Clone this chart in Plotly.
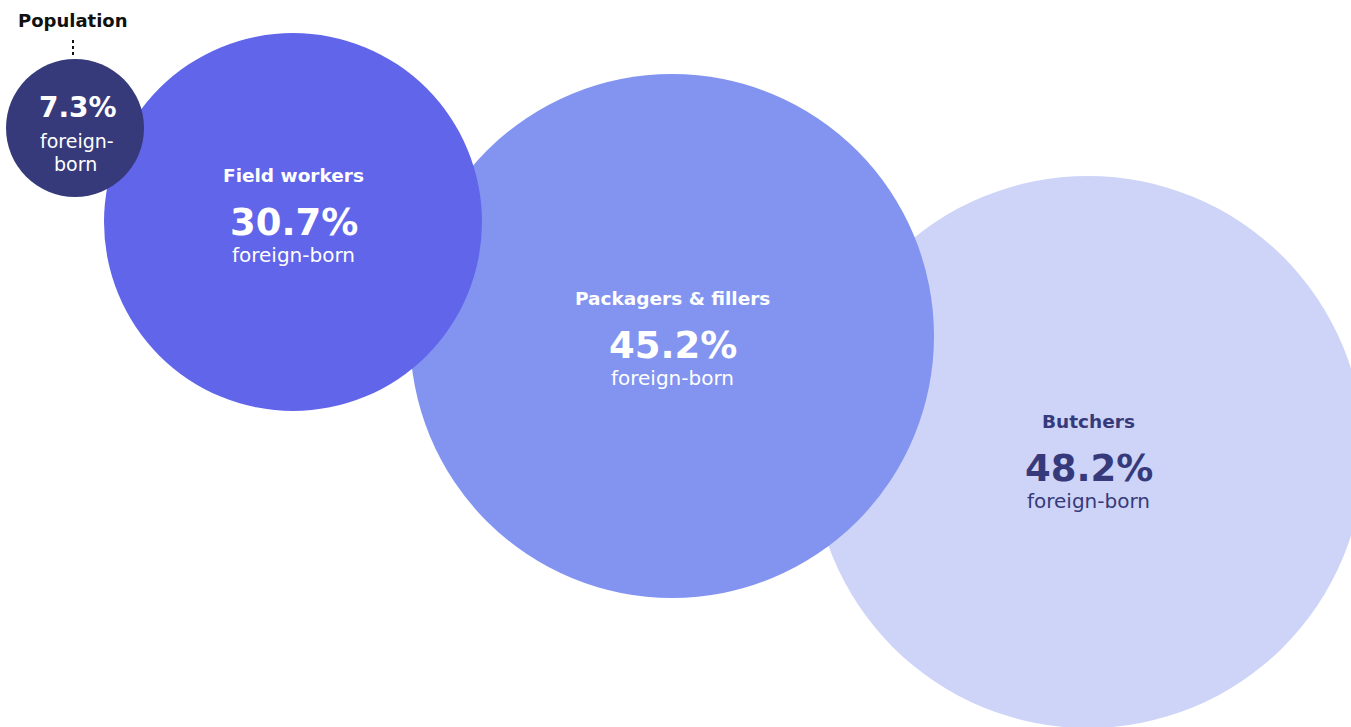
import plotly.graph_objects as go

# ---- data ----
categories = ["Population", "Field workers", "Packagers & fillers", "Butchers"]
foreign_born_pct = [7.3, 30.7, 45.2, 48.2]
sub_label = "foreign-born"

# ---- layout constants (pixel space, y downward) ----
centers_x = [75, 293, 672, 1088]
centers_y = [128, 222, 336, 452]
radii = [69, 189, 262, 276]
fills = ["#363a7a", "#6165ea", "#8294f0", "#cdd4f8"]
text_colors = ["#ffffff", "#ffffff", "#ffffff", "#363a7a"]
draw_order = [3, 2, 1, 0]
label_y = [None, 175, 298, 421]

W, H = 1351, 727
FONT = "DejaVu Sans"

fig = go.Figure()
fig.add_trace(go.Scatter(x=[0, W], y=[0, H], mode="markers",
                         marker=dict(opacity=0), hoverinfo="skip", showlegend=False))

shapes = []
for i in draw_order:
    cx, cy, r = centers_x[i], centers_y[i], radii[i]
    shapes.append(dict(type="circle", xref="x", yref="y",
                       x0=cx - r, x1=cx + r, y0=cy - r, y1=cy + r,
                       fillcolor=fills[i], line=dict(width=0), layer="below"))

# dotted connector for Population
shapes.append(dict(type="line", xref="x", yref="y", x0=centers_x[0] - 2, x1=centers_x[0] - 2,
                   y0=40, y1=centers_y[0] - radii[0] - 1,
                   line=dict(color="#111111", width=2, dash="dot")))

annotations = []
annotations.append(dict(x=centers_x[0] - 2, y=20, xref="x", yref="y", text="<b>" + categories[0] + "</b>",
                        showarrow=False, font=dict(family=FONT, size=18, color="#111111"),
                        xanchor="center", yanchor="middle"))
annotations.append(dict(x=centers_x[0] + 3, y=centers_y[0] - 21, xref="x", yref="y",
                        text="<b>%.1f%%</b>" % foreign_born_pct[0],
                        showarrow=False, font=dict(family=FONT, size=28, color=text_colors[0]),
                        xanchor="center", yanchor="middle"))
annotations.append(dict(x=centers_x[0] + 2, y=centers_y[0] + 13, xref="x", yref="y",
                        text="foreign-", showarrow=False,
                        font=dict(family=FONT, size=19, color=text_colors[0]),
                        xanchor="center", yanchor="middle"))
annotations.append(dict(x=centers_x[0], y=centers_y[0] + 36, xref="x", yref="y",
                        text="born", showarrow=False,
                        font=dict(family=FONT, size=19, color=text_colors[0]),
                        xanchor="center", yanchor="middle"))

for i in range(1, 4):
    cx = centers_x[i]
    ty = label_y[i]
    annotations.append(dict(x=cx, y=ty, xref="x", yref="y", text="<b>" + categories[i] + "</b>",
                            showarrow=False, font=dict(family=FONT, size=18.5, color=text_colors[i]),
                            xanchor="center", yanchor="middle"))
    annotations.append(dict(x=cx + 1, y=ty + 47, xref="x", yref="y",
                            text="<b>%.1f%%</b>" % foreign_born_pct[i],
                            showarrow=False, font=dict(family=FONT, size=37, color=text_colors[i]),
                            xanchor="center", yanchor="middle"))
    annotations.append(dict(x=cx, y=ty + 80, xref="x", yref="y", text=sub_label,
                            showarrow=False, font=dict(family=FONT, size=20, color=text_colors[i]),
                            xanchor="center", yanchor="middle"))

fig.update_layout(
    width=W, height=H, margin=dict(l=0, r=0, t=0, b=0),
    paper_bgcolor="#ffffff", plot_bgcolor="#ffffff",
    xaxis=dict(range=[0, W], visible=False, fixedrange=True),
    yaxis=dict(range=[H, 0], visible=False, fixedrange=True),
    shapes=shapes, annotations=annotations, showlegend=False,
)

fig.write_html("out.html", config={"displayModeBar": False},
               post_script="document.body.style.margin='0';document.body.style.overflow='hidden';")
